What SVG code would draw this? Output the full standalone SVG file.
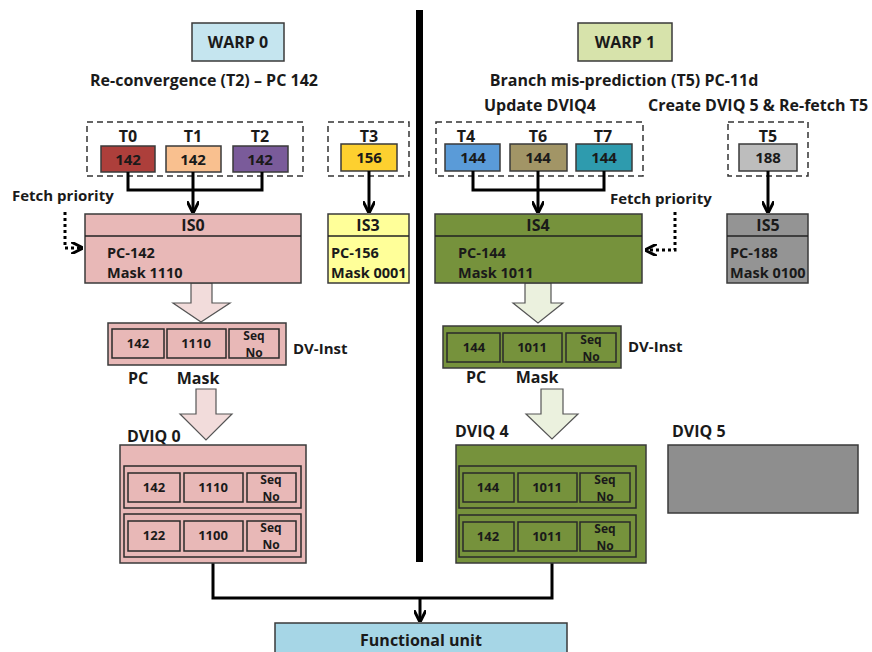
<svg xmlns="http://www.w3.org/2000/svg" width="872" height="652" viewBox="0 0 872 652">
<defs>
<style>
text{font-family:"Open Sans","Liberation Sans",Arial,sans-serif;font-weight:bold;fill:#1a1a1a}
.t16{font-size:16px}
.t15{font-size:15px}
.t14{font-size:14.5px}
.t13{font-size:13px}
.t12{font-size:12px}
.c{text-anchor:middle}
.box{stroke:#3a3a3a;stroke-width:1.5}
.cell{fill:none;stroke:#2a2a2a;stroke-width:1.5}
.dash{fill:none;stroke:#333;stroke-width:1.5;stroke-dasharray:6 4}
.conn{fill:none;stroke:#000;stroke-width:3}
.dot{fill:none;stroke:#000;stroke-width:3;stroke-dasharray:3 3}
.barrowL{fill:#f2dcdb;stroke:#555;stroke-width:1.2}
.barrowR{fill:#ebf1de;stroke:#555;stroke-width:1.2}
</style>
<marker id="ah" viewBox="0 0 10 10" refX="9" refY="5" markerWidth="4" markerHeight="4" orient="auto">
<path d="M0,0 L10,5 L0,10" fill="none" stroke="#000" stroke-width="2.5"/>
</marker>
</defs>
<rect width="872" height="652" fill="#fff"/>

<!-- divider -->
<rect x="416" y="10" width="7" height="552" fill="#000"/>

<g id="warp0"><rect class="box" x="192" y="23" width="92" height="38" fill="#c5e5ef"/><text class="t16 c" x="238" y="48">WARP 0</text></g>
<text class="t16 c" x="204" y="86">Re-convergence (T2) – PC 142</text>

<g id="warp1"><rect class="box" x="578" y="23" width="94" height="38" fill="#d7e3ab"/><text class="t16 c" x="625" y="48">WARP 1</text></g>
<text class="t16 c" x="624" y="86">Branch mis-prediction (T5) PC-11d</text>
<text class="t16 c" x="540" y="111">Update DVIQ4</text>
<text class="t16 c" x="758" y="111">Create DVIQ 5 &amp; Re-fetch T5</text>

<!-- thread groups -->
<g id="grp0"><rect class="dash" x="87" y="122" width="216" height="54"/></g>
<g id="T0"><text class="t16 c" x="128" y="142">T0</text><rect class="box" x="101" y="146" width="54" height="26" fill="#ad3f3b"/><text class="t15 c" x="128" y="165">142</text></g>
<g id="T1"><text class="t16 c" x="193" y="142">T1</text><rect class="box" x="166" y="146" width="55" height="26" fill="#f9c08f"/><text class="t15 c" x="193" y="165">142</text></g>
<g id="T2"><text class="t16 c" x="260" y="142">T2</text><rect class="box" x="233" y="146" width="55" height="26" fill="#7a5b9a"/><text class="t15 c" x="260" y="165">142</text></g>

<g id="grp3"><rect class="dash" x="328" y="122" width="81" height="54"/></g>
<g id="T3"><text class="t16 c" x="369" y="142">T3</text><rect class="box" x="341" y="144" width="56" height="27" fill="#fdd02f"/><text class="t15 c" x="369" y="163">156</text></g>

<g id="grp4"><rect class="dash" x="436" y="122" width="207" height="54"/></g>
<g id="T4"><text class="t16 c" x="466" y="142">T4</text><rect class="box" x="445" y="144" width="55" height="27" fill="#5a9bd8"/><text class="t15 c" x="473" y="163">144</text></g>
<g id="T6"><text class="t16 c" x="538" y="142">T6</text><rect class="box" x="510" y="144" width="57" height="27" fill="#a29566"/><text class="t15 c" x="538" y="163">144</text></g>
<g id="T7"><text class="t16 c" x="603" y="142">T7</text><rect class="box" x="576" y="144" width="56" height="27" fill="#2e9bae"/><text class="t15 c" x="604" y="163">144</text></g>

<g id="grp5"><rect class="dash" x="728" y="122" width="80" height="54"/></g>
<g id="T5"><text class="t16 c" x="768" y="142">T5</text><rect class="box" x="739" y="144" width="58" height="27" fill="#bdbdbd"/><text class="t15 c" x="768" y="163">188</text></g>

<!-- connectors -->
<g id="connectors">
<path class="conn" d="M128,172 V190 H262 V172"/>
<path class="conn" d="M193,172 V212" marker-end="url(#ah)"/>
<path class="conn" d="M369,171 V212" marker-end="url(#ah)"/>
<path class="conn" d="M473,171 V190 H604 V171"/>
<path class="conn" d="M538,171 V212" marker-end="url(#ah)"/>
<path class="conn" d="M768,171 V212" marker-end="url(#ah)"/>
<path class="dot" d="M65,212 V248 H82" marker-end="url(#ah)"/>
<path class="dot" d="M675,212 V250 H646" marker-end="url(#ah)"/>
<path class="conn" d="M213,563 V598 H552 V563"/>
<path class="conn" d="M420,598 V621" marker-end="url(#ah)"/>
<polygon class="barrowL" points="191,283 212,283 212,303 230,303 201,322 173,303 191,303"/>
<polygon class="barrowL" points="196,389 216,389 216,414 232,414 206,440 180,414 196,414"/>
<polygon class="barrowR" points="525,283 551,283 551,303 563,303 538,323 513,303 525,303"/>
<polygon class="barrowR" points="541,389 563,389 563,414 578,414 552,439 526,414 541,414"/>
</g>
<text class="t15" x="12" y="201">Fetch priority</text>
<text class="t15" x="610" y="204">Fetch priority</text>

<!-- IS boxes -->
<g id="IS0"><rect class="box" x="85" y="214" width="216" height="69" fill="#e8b8b7"/><line x1="85" y1="236" x2="301" y2="236" stroke="#222" stroke-width="1.5"/><text class="t16 c" x="193" y="231">IS0</text><text class="t14" x="107" y="258">PC-142</text><text class="t14" x="107" y="278">Mask 1110</text></g>
<g id="IS3"><rect class="box" x="328" y="214" width="81" height="69" fill="#ffff99"/><line x1="328" y1="236" x2="409" y2="236" stroke="#222" stroke-width="1.5"/><text class="t16 c" x="368" y="231">IS3</text><text class="t14" x="331" y="258">PC-156</text><text class="t14" x="331" y="278">Mask 0001</text></g>
<g id="IS4"><rect class="box" x="435" y="214" width="207" height="69" fill="#76923c"/><line x1="435" y1="236" x2="642" y2="236" stroke="#222" stroke-width="1.5"/><text class="t16 c" x="538" y="231">IS4</text><text class="t14" x="458" y="258">PC-144</text><text class="t14" x="458" y="278">Mask 1011</text></g>
<g id="IS5"><rect class="box" x="727" y="214" width="81" height="69" fill="#949494"/><line x1="727" y1="236" x2="808" y2="236" stroke="#222" stroke-width="1.5"/><text class="t16 c" x="768" y="231">IS5</text><text class="t14" x="730" y="258">PC-188</text><text class="t14" x="730" y="278">Mask 0100</text></g>

<!-- DV-Inst -->
<g id="dvinst0"><rect class="box" x="108" y="323" width="178" height="42" fill="#e8b8b7"/>
<rect class="cell" x="112" y="329" width="52" height="29"/><rect class="cell" x="167" y="329" width="59" height="29"/><rect class="cell" x="229" y="329" width="50" height="29"/>
<text class="t13 c" x="138" y="348">142</text><text class="t13 c" x="196" y="348">1110</text><text class="t12 c" x="254" y="340">Seq</text><text class="t12 c" x="254" y="357">No</text></g>
<text class="t15" x="293" y="354">DV-Inst</text>
<text class="t16 c" x="138" y="384">PC</text><text class="t16 c" x="198" y="384">Mask</text>

<g id="dvinst1"><rect class="box" x="443" y="326" width="178" height="42" fill="#76923c"/>
<rect class="cell" x="447" y="333" width="53" height="29"/><rect class="cell" x="503" y="333" width="59" height="29"/><rect class="cell" x="566" y="333" width="50" height="29"/>
<text class="t13 c" x="474" y="352">144</text><text class="t13 c" x="532" y="352">1011</text><text class="t12 c" x="591" y="344">Seq</text><text class="t12 c" x="591" y="361">No</text></g>
<text class="t15" x="628" y="352">DV-Inst</text>
<text class="t16 c" x="476" y="383">PC</text><text class="t16 c" x="537" y="383">Mask</text>

<!-- DVIQ -->
<text class="t16" x="127" y="442">DVIQ 0</text>
<g id="DVIQ0"><rect class="box" x="120" y="445" width="186" height="118" fill="#e8b8b7"/>
<rect class="cell" x="124" y="466" width="177" height="42"/>
<rect class="cell" x="128" y="473" width="52" height="29"/><rect class="cell" x="184" y="473" width="59" height="29"/><rect class="cell" x="247" y="473" width="49" height="29"/>
<text class="t13 c" x="154" y="492">142</text><text class="t13 c" x="213" y="492">1110</text><text class="t12 c" x="271" y="484">Seq</text><text class="t12 c" x="271" y="501">No</text>
<rect class="cell" x="124" y="514" width="177" height="43"/>
<rect class="cell" x="128" y="521" width="52" height="30"/><rect class="cell" x="184" y="521" width="59" height="30"/><rect class="cell" x="247" y="521" width="49" height="30"/>
<text class="t13 c" x="154" y="540">122</text><text class="t13 c" x="213" y="540">1100</text><text class="t12 c" x="271" y="532">Seq</text><text class="t12 c" x="271" y="549">No</text></g>

<text class="t16" x="455" y="437">DVIQ 4</text>
<g id="DVIQ4"><rect class="box" x="456" y="445" width="190" height="118" fill="#76923c"/>
<rect class="cell" x="459" y="466" width="177" height="42"/>
<rect class="cell" x="463" y="473" width="51" height="29"/><rect class="cell" x="518" y="473" width="59" height="29"/><rect class="cell" x="580" y="473" width="50" height="29"/>
<text class="t13 c" x="488" y="492">144</text><text class="t13 c" x="547" y="492">1011</text><text class="t12 c" x="605" y="484">Seq</text><text class="t12 c" x="605" y="501">No</text>
<rect class="cell" x="459" y="515" width="177" height="42"/>
<rect class="cell" x="463" y="522" width="51" height="29"/><rect class="cell" x="518" y="522" width="59" height="29"/><rect class="cell" x="580" y="522" width="50" height="29"/>
<text class="t13 c" x="488" y="541">142</text><text class="t13 c" x="547" y="541">1011</text><text class="t12 c" x="605" y="533">Seq</text><text class="t12 c" x="605" y="550">No</text></g>

<text class="t16" x="672" y="437">DVIQ 5</text>
<g id="DVIQ5"><rect class="box" x="668" y="445" width="190" height="68" fill="#8e8e8e"/></g>

<g id="FU"><rect class="box" x="275" y="623" width="292" height="40" fill="#a6d6e6"/><text class="t16 c" x="421" y="646">Functional unit</text></g>
</svg>
